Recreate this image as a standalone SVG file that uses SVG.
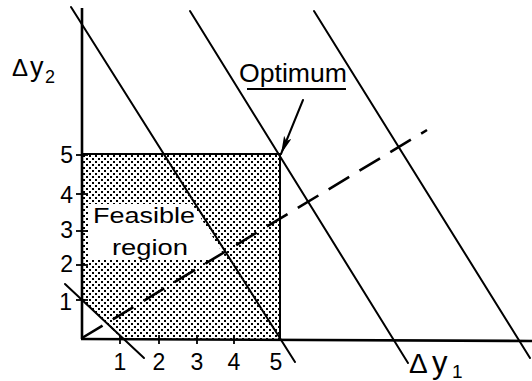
<svg xmlns="http://www.w3.org/2000/svg" width="532" height="381" viewBox="0 0 532 381">
  <defs>
    <pattern id="stipple" x="82" y="154" width="6" height="6" patternUnits="userSpaceOnUse">
      <rect x="1" y="1" width="2" height="2" fill="#000" shape-rendering="crispEdges"/>
      <rect x="4" y="4" width="2" height="2" fill="#000" shape-rendering="crispEdges"/>
    </pattern>
    <marker id="head" markerUnits="userSpaceOnUse" markerWidth="20" markerHeight="10" refX="18" refY="4" orient="auto">
      <path d="M0,0 L18,4 L0,8 L4,4 z" fill="#000"/>
    </marker>
    <style>
      .ln { stroke: #000; stroke-width: 2; fill: none; stroke-linecap: round; }
      .ax { stroke: #000; stroke-width: 2.6; fill: none; }
      .tk { stroke: #000; stroke-width: 1.8; }
      .dash { stroke: #000; stroke-width: 2.6; fill: none; stroke-dasharray: 24 12; }
      text { font-family: "Liberation Sans", Arial, sans-serif; fill: #000; }
      .num { font-size: 23px; }
    </style>
  </defs>
  <rect width="532" height="381" fill="#fff"/>

  <g id="feasible-region">
    <rect x="82" y="154" width="198" height="185" fill="url(#stipple)"/>
    <polygon points="89,204 192,204 227,260 89,260" fill="#fff"/>
    <polygon points="83,301 83,338 121,338" fill="#fff"/>
    <polyline class="ln" points="82,154 280,154 280,339"/>
  </g>

  <g id="axes">
    <line class="ax" x1="82" y1="8" x2="82" y2="339"/>
    <line class="ax" x1="81" y1="339" x2="532" y2="341"/>
    <g id="x-ticks">
      <line class="tk" x1="120" y1="335" x2="120" y2="344"/>
      <line class="tk" x1="159" y1="335" x2="159" y2="344"/>
      <line class="tk" x1="197" y1="335" x2="197" y2="344"/>
      <line class="tk" x1="234" y1="335" x2="234" y2="344"/>
    </g>
    <g id="y-ticks">
      <line class="tk" x1="76" y1="155" x2="88" y2="155"/>
      <line class="tk" x1="76" y1="194" x2="88" y2="194"/>
      <line class="tk" x1="76" y1="231" x2="88" y2="231"/>
      <line class="tk" x1="76" y1="265" x2="88" y2="265"/>
      <line class="tk" x1="76" y1="300" x2="88" y2="300"/>
    </g>
  </g>

  <g id="connectors">
    <line class="ln" x1="65" y1="284" x2="144" y2="358"/>
    <line class="ln" x1="71" y1="7" x2="295" y2="362"/>
    <line class="ln" x1="190" y1="11" x2="408" y2="363"/>
    <line class="ln" x1="314" y1="11" x2="530" y2="358"/>
    <line class="dash" x1="82" y1="338" x2="427" y2="130"/>
    <line class="ln" x1="303" y1="100" x2="281" y2="154" marker-end="url(#head)"/>
  </g>

  <g id="labels">
    <text x="239" y="82" font-size="26" textLength="108" lengthAdjust="spacingAndGlyphs">Optimum</text>
    <line class="tk" x1="247" y1="89" x2="346" y2="89"/>
    <text x="93" y="223" font-size="22" textLength="102" lengthAdjust="spacingAndGlyphs">Feasible</text>
    <text x="112" y="255" font-size="22" textLength="76" lengthAdjust="spacingAndGlyphs">region</text>

    <text x="12" y="76"><tspan font-size="24">Δ</tspan><tspan x="30" font-size="27">y</tspan><tspan x="45" y="83" font-size="18">2</tspan></text>
    <text x="409" y="373"><tspan font-size="28">Δ</tspan><tspan x="432" font-size="31">y</tspan><tspan x="452" y="378" font-size="19">1</tspan></text>

    <g class="num" text-anchor="end">
      <text x="73" y="163">5</text>
      <text x="73" y="203">4</text>
      <text x="73" y="238">3</text>
      <text x="73" y="272">2</text>
      <text x="72" y="310">1</text>
    </g>
    <g class="num" text-anchor="middle">
      <text x="120" y="370">1</text>
      <text x="159" y="370">2</text>
      <text x="197" y="370">3</text>
      <text x="234" y="370">4</text>
      <text x="276" y="370">5</text>
    </g>
  </g>
</svg>
